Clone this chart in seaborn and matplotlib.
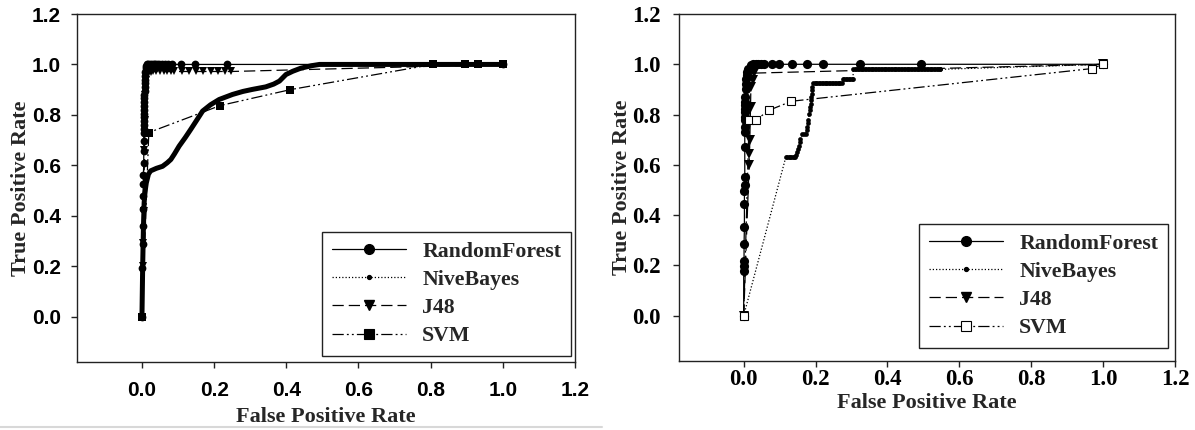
import matplotlib
matplotlib.use("Agg")
import matplotlib.pyplot as plt
from matplotlib.lines import Line2D
import seaborn as sns

# ---------------- data: left panel ----------------
labels = ["RandomForest", "NiveBayes", "J48", "SVM"]

rf_l_x = [0, 0.001, 0.002, 0.002, 0.003, 0.003, 0.004, 0.004, 0.005, 0.005,
          0.005, 0.005, 0.005, 0.006, 0.006, 0.006, 0.006, 0.007, 0.007, 0.007,
          0.007, 0.007, 0.008, 0.008, 0.008, 0.008, 0.008, 0.009, 0.010, 0.012,
          0.015, 0.018, 0.022, 0.027, 0.032, 0.037, 0.042, 0.048, 0.055, 0.063,
          0.072, 0.082, 0.107, 0.147, 0.236, 1.0]
rf_l_y = [0, 0.193, 0.286, 0.358, 0.427, 0.477, 0.524, 0.563, 0.61, 0.656,
          0.696, 0.729, 0.745, 0.76, 0.775, 0.79, 0.805, 0.82, 0.835, 0.85,
          0.865, 0.88, 0.895, 0.91, 0.925, 0.94, 0.955, 0.97, 0.985, 0.995,
          1.0, 1.0, 1.0, 1.0, 1.0, 1.0, 1.0, 1.0, 1.0, 1.0,
          1.0, 1.0, 1.0, 1.0, 1.0, 1.0]

nb_l_x = [0, 0.002, 0.004, 0.006, 0.008, 0.012, 0.018, 0.024, 0.04, 0.057,
          0.07, 0.08, 0.09, 0.103, 0.12, 0.135, 0.15, 0.168, 0.19, 0.214,
          0.251, 0.28, 0.306, 0.343, 0.365, 0.381, 0.399, 0.418, 0.44, 0.47,
          0.492, 0.6, 0.8, 1.0]
nb_l_y = [0, 0.2, 0.35, 0.45, 0.49, 0.53, 0.565, 0.578, 0.588, 0.596,
          0.61, 0.623, 0.645, 0.676, 0.71, 0.742, 0.775, 0.815, 0.84, 0.861,
          0.881, 0.893, 0.901, 0.911, 0.922, 0.934, 0.96, 0.973, 0.985, 0.995,
          1.0, 1.0, 1.0, 1.0]

j48_l_x = [0, 0.003, 0.004, 0.005, 0.006, 0.007, 0.008, 0.009, 0.010, 0.012, 0.015,
           0.02, 0.025, 0.03, 0.04, 0.05, 0.06, 0.07, 0.08, 0.09, 0.11, 0.13, 0.15,
           0.17, 0.19, 0.21, 0.23, 0.247, 1.0]
j48_l_y = [0, 0.2, 0.29, 0.42, 0.55, 0.66, 0.78, 0.88, 0.94, 0.96, 0.968,
           0.97, 0.97, 0.972, 0.972, 0.972, 0.972, 0.972, 0.972, 0.972, 0.972, 0.972, 0.972,
           0.972, 0.972, 0.972, 0.972, 0.972, 1.0]

svm_l_x = [0, 0.019, 0.217, 0.411, 0.806, 0.894, 0.93, 1.0]
svm_l_y = [0, 0.73, 0.837, 0.90, 1.0, 1.0, 1.0, 1.0]

# ---------------- data: right panel ----------------
rf_r_x = [0, 0, 0.001, 0.001, 0.001, 0.002, 0.002, 0.002, 0.003, 0.003,
          0.003, 0.003, 0.004, 0.004, 0.004, 0.004, 0.005, 0.005, 0.005, 0.005,
          0.006, 0.006, 0.007, 0.008, 0.010, 0.012, 0.019, 0.026, 0.033, 0.040,
          0.047, 0.056, 0.08, 0.098, 0.135, 0.177, 0.221, 0.323, 0.492, 1.0]
rf_r_y = [0, 0.179, 0.199, 0.219, 0.286, 0.352, 0.445, 0.498, 0.518, 0.551,
          0.671, 0.73, 0.751, 0.777, 0.79, 0.81, 0.823, 0.84, 0.85, 0.87,
          0.90, 0.923, 0.94, 0.956, 0.97, 0.983, 0.996, 1.0, 1.0, 1.0,
          1.0, 1.0, 1.0, 1.0, 1.0, 1.0, 1.0, 1.0, 1.0, 1.0]

nb_r_x = [0, 0.117, 0.121, 0.125, 0.129, 0.133, 0.137, 0.141, 0.144, 0.146,
          0.149, 0.152, 0.154, 0.156, 0.158, 0.163, 0.168, 0.172, 0.175, 0.177,
          0.179, 0.18, 0.182, 0.184, 0.185, 0.186, 0.186, 0.188, 0.189, 0.19,
          0.19, 0.193, 0.197, 0.201, 0.205, 0.209, 0.213, 0.217, 0.221, 0.225,
          0.229, 0.233, 0.237, 0.241, 0.245, 0.249, 0.253, 0.257, 0.261, 0.265,
          0.269, 0.274, 0.276, 0.280, 0.284, 0.288, 0.292, 0.296, 0.300, 0.304,
          0.305, 0.309, 0.313, 0.317, 0.321, 0.325, 0.329, 0.333, 0.337, 0.341,
          0.345, 0.349, 0.353, 0.357, 0.361, 0.365, 0.369, 0.373, 0.377, 0.381,
          0.385, 0.389, 0.393, 0.397, 0.401, 0.405, 0.409, 0.413, 0.417, 0.421,
          0.425, 0.429, 0.433, 0.437, 0.441, 0.445, 0.449, 0.453, 0.457, 0.461,
          0.465, 0.469, 0.473, 0.477, 0.481, 0.485, 0.489, 0.493, 0.497, 0.501,
          0.505, 0.509, 0.513, 0.517, 0.521, 0.525, 0.529, 0.533, 0.537, 0.541,
          0.545, 0.547, 1.0]
nb_r_y = [0, 0.63, 0.63, 0.63, 0.63, 0.63, 0.63, 0.63, 0.632, 0.638,
          0.651, 0.664, 0.677, 0.69, 0.704, 0.721, 0.722, 0.724, 0.737, 0.75,
          0.765, 0.78, 0.803, 0.817, 0.83, 0.843, 0.857, 0.87, 0.883, 0.897,
          0.91, 0.925, 0.925, 0.925, 0.925, 0.925, 0.925, 0.925, 0.925, 0.925,
          0.925, 0.925, 0.925, 0.925, 0.925, 0.925, 0.925, 0.925, 0.925, 0.925,
          0.925, 0.925, 0.942, 0.942, 0.942, 0.942, 0.942, 0.942, 0.942, 0.942,
          0.98, 0.98, 0.98, 0.98, 0.98, 0.98, 0.98, 0.98, 0.98, 0.98,
          0.98, 0.98, 0.98, 0.98, 0.98, 0.98, 0.98, 0.98, 0.98, 0.98,
          0.98, 0.98, 0.98, 0.98, 0.98, 0.98, 0.98, 0.98, 0.98, 0.98,
          0.98, 0.98, 0.98, 0.98, 0.98, 0.98, 0.98, 0.98, 0.98, 0.98,
          0.98, 0.98, 0.98, 0.98, 0.98, 0.98, 0.98, 0.98, 0.98, 0.98,
          0.98, 0.98, 0.98, 0.98, 0.98, 0.98, 0.98, 0.98, 0.98, 0.98,
          0.98, 0.98, 1.0]

j48_r_x = [0, 0.015, 0.016, 0.017, 0.018, 0.019, 0.02, 0.025, 0.03, 1.0]
j48_r_y = [0, 0.598, 0.644, 0.697, 0.77, 0.83, 0.91, 0.936, 0.965, 1.0]

svm_r_x = [0, 0.015, 0.033, 0.07, 0.133, 0.969, 1.0]
svm_r_y = [0, 0.777, 0.777, 0.817, 0.853, 0.983, 1.0]

xticks = [0.0, 0.2, 0.4, 0.6, 0.8, 1.0, 1.2]
yticks = [0.0, 0.2, 0.4, 0.6, 0.8, 1.0, 1.2]
xlabel = "False Positive Rate"
ylabel = "True Positive Rate"

# ---------------- styling ----------------
sns.set_style("ticks")
plt.rcParams["font.family"] = ["Liberation Serif", "DejaVu Serif"]
plt.rcParams["axes.edgecolor"] = "#222222"
plt.rcParams["axes.linewidth"] = 1.0

SERIF = "Liberation Serif"
SANS = "Liberation Sans"

LS_RF = "-"
LS_NB = (0, (1, 1.6))
LS_J48 = (0, (9, 4))
LS_SVM = (0, (9, 2.5, 1.5, 2.5, 1.5, 2.5))

fig = plt.figure(figsize=(11.95, 4.30), dpi=100)
W, H = 1195.0, 430.0
ax1 = fig.add_axes([77 / W, (H - 362) / H, 498 / W, 348 / H])
ax2 = fig.add_axes([679 / W, (H - 361) / H, 496 / W, 347 / H])


def line(ax, x, y, ls, lw, marker=None, ms=0, mfc="black", mec="black", mew=0.0, z=2):
    kw = dict(x=x, y=y, ax=ax, sort=False, estimator=None, color="black",
              linestyle=ls, linewidth=lw, legend=False, zorder=z)
    if marker is not None:
        kw.update(marker=marker, markersize=ms, markerfacecolor=mfc,
                  markeredgecolor=mec, markeredgewidth=mew)
    sns.lineplot(**kw)


# left panel
line(ax1, rf_l_x, rf_l_y, LS_RF, 0.9, "o", 5.6, z=3)
line(ax1, nb_l_x, nb_l_y, "-", 3.6, z=2)
line(ax1, j48_l_x, j48_l_y, LS_J48, 0.9, "v", 6.0, z=4)
line(ax1, svm_l_x, svm_l_y, LS_SVM, 0.9, "s", 5.6, z=5)

# right panel
line(ax2, rf_r_x, rf_r_y, LS_RF, 0.9, "o", 6.6, z=3)
line(ax2, nb_r_x, nb_r_y, LS_NB, 0.9, "o", 3.4, z=2)
line(ax2, j48_r_x, j48_r_y, LS_J48, 0.9, "v", 7.2, z=4)
line(ax2, svm_r_x, svm_r_y, LS_SVM, 0.9, "s", 5.6, mfc="white", mec="black", mew=0.8, z=5)

for ax, tickfont, tsize, xpad, ypad in ((ax1, SANS, 15, 9.5, 7.0), (ax2, SERIF, 16.5, 1.5, 8.5)):
    ax.set_xlim(-0.18, 1.2)
    ax.set_ylim(-0.18, 1.2)
    ax.set_xticks(xticks)
    ax.set_yticks(yticks)
    fd = dict(fontfamily=tickfont, fontweight="bold", fontsize=tsize, color="black")
    ax.set_xticklabels([f"{v:.1f}" for v in xticks], **fd)
    ax.set_yticklabels([f"{v:.1f}" for v in yticks], **fd)
    ax.tick_params(axis="both", direction="out", length=4.5, width=1.0, color="#222222",
                   labelfontfamily=tickfont)
    ax.tick_params(axis="x", pad=xpad)
    ax.tick_params(axis="y", pad=ypad)
    for sp in ax.spines.values():
        sp.set_visible(True)
        sp.set_color("#222222")
        sp.set_linewidth(1.0)
    ax.set_facecolor("white")
    ax.set_xlabel(xlabel, fontfamily=SERIF, fontweight="bold", fontsize=16)
    ax.set_ylabel(ylabel, fontfamily=SERIF, fontweight="bold", fontsize=16)
    ax.xaxis.label.set_verticalalignment("baseline")

ax1.xaxis.set_label_coords(0.5, (362 - 422) / 348)
ax2.xaxis.set_label_coords(0.5, (361 - 408) / 347)
ax1.yaxis.set_label_coords((31 - 77) / 498, 0.5)
ax2.yaxis.set_label_coords((632 - 679) / 496, 0.5)


def handles(open_square):
    return [
        Line2D([], [], color="black", lw=0.9, ls=LS_RF, marker="o", ms=7,
               mfc="black", mec="black"),
        Line2D([], [], color="black", lw=0.9, ls=LS_NB, marker="o", ms=2.8,
               mfc="black", mec="black"),
        Line2D([], [], color="black", lw=0.9, ls=LS_J48, marker="v", ms=7.5,
               mfc="black", mec="black"),
        Line2D([], [], color="black", lw=0.9, ls=LS_SVM, marker="s", ms=6.5,
               mfc="white" if open_square else "black", mec="black", mew=0.8),
    ]


for ax, op, anchor in ((ax1, False, ((571 - 77) / 498, (362 - 356) / 348)),
                       (ax2, True, ((1168 - 679) / 496, (361 - 348) / 347))):
    leg = ax.legend(handles(op), labels, loc="lower right", bbox_to_anchor=anchor,
                    borderaxespad=0, frameon=True, fancybox=False, shadow=False,
                    prop={"family": SERIF, "weight": "bold", "size": 15.7},
                    handlelength=3.4, handletextpad=0.75, labelspacing=0.36,
                    borderpad=0.45, framealpha=1)
    leg.get_frame().set_edgecolor("#222222")
    leg.get_frame().set_linewidth(1.0)

fig.add_artist(Line2D([0, 602 / W], [1 - 427 / H, 1 - 427 / H], transform=fig.transFigure,
                      color="#d8d8d8", lw=1.5))

fig.savefig("out.png", dpi=100, facecolor="white")
